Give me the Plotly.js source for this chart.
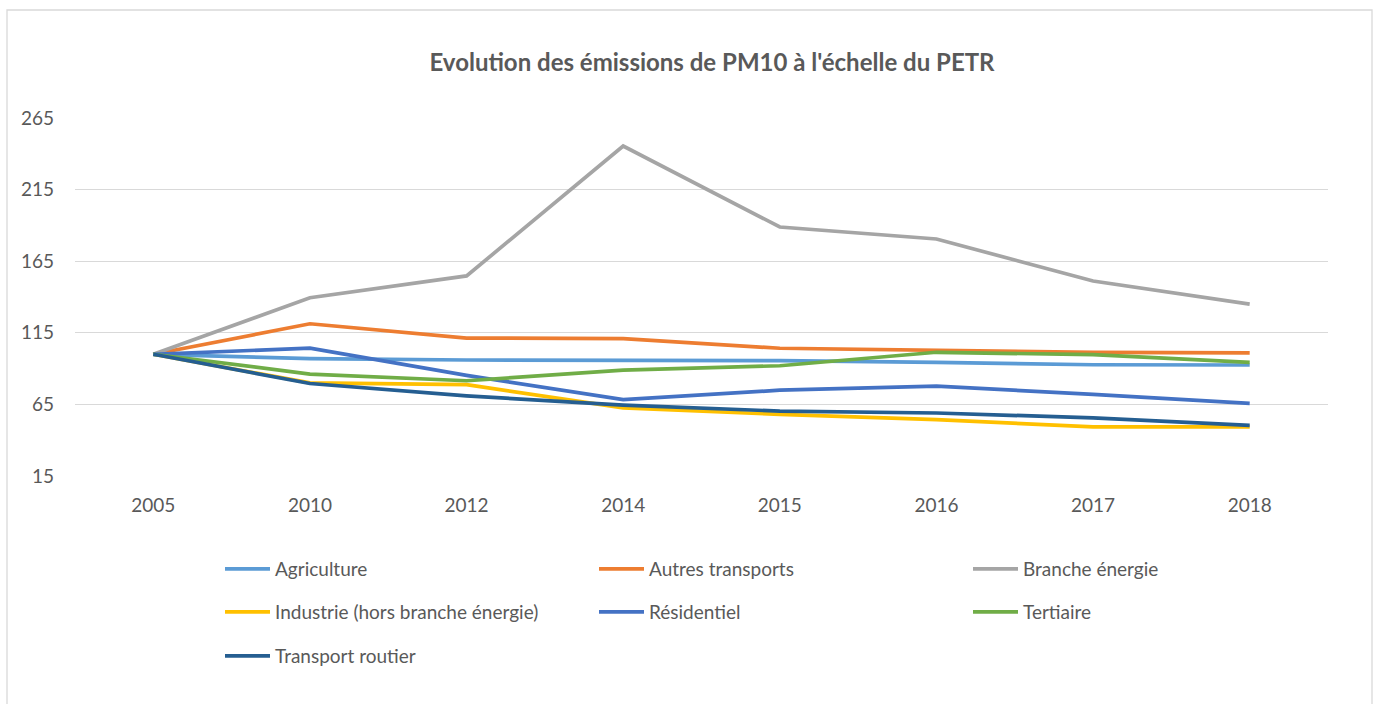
<!DOCTYPE html>
<html>
<head>
<meta charset="utf-8">
<script src="https://cdn.plot.ly/plotly-3.0.1.min.js"></script>
<style>
html,body{margin:0;padding:0;background:#fff;}
#chart{width:1379px;height:704px;}
</style>
</head>
<body>
<div id="chart"></div>
<script>
const years = ['2005','2010','2012','2014','2015','2016','2017','2018'];
const seriesNames = ['Agriculture','Autres transports','Branche énergie','Industrie (hors branche énergie)','Résidentiel','Tertiaire','Transport routier'];
const agriculture      = [100, 97, 96, 96, 95.5, 94.3, 92.7, 92.5];
const autresTransports = [100, 121.3, 111.3, 111, 104.2, 102.6, 101.4, 101];
const brancheEnergie   = [100, 139.5, 154.7, 245.4, 188.9, 180.5, 151.2, 135];
const industrie        = [100, 80, 78.8, 62.6, 58, 54.4, 49.3, 49.3];
const residentiel      = [100, 104.3, 85.3, 68.3, 74.9, 77.7, 72, 65.7];
const tertiaire        = [100, 86.2, 81.5, 89, 92, 101.4, 99.7, 94.3];
const transportRoutier = [100, 79.6, 71, 64.5, 60.3, 59, 55.6, 50.4];
const yTicks = [15, 65, 115, 165, 215, 265];

const values = [agriculture, autresTransports, brancheEnergie, industrie, residentiel, tertiaire, transportRoutier];
const colors = ['#5B9BD5','#ED7D31','#A5A5A5','#FFC000','#4472C4','#70AD47','#255E91'];
const legendOf = ['legend','legend','legend','legend2','legend2','legend2','legend3'];

const font = 'Lato, "Noto Sans", sans-serif';
const traces = seriesNames.map((n, i) => ({
  type: 'scatter', mode: 'lines', name: n,
  x: years, y: values[i],
  line: {color: colors[i], width: 3.7},
  legend: legendOf[i]
}));

const L = 75, R = 51, T = 118, B = 228;
const W = 1379 - L - R, H = 704 - T - B;
const px = v => (v - L) / W;
const py = v => (704 - B - v) / H;

const legendBase = {
  orientation: 'h', xref: 'container', yref: 'container',
  xanchor: 'left', yanchor: 'middle',
  x: 220 / 1379, entrywidth: 314, entrywidthmode: 'pixels',
  itemwidth: 45, font: {family: font, size: 19, color: '#595959'},
  bgcolor: 'rgba(0,0,0,0)', traceorder: 'normal'
};

const layout = {
  width: 1379, height: 704,
  margin: {l: L, r: R, t: T, b: B, pad: 0},
  paper_bgcolor: '#ffffff', plot_bgcolor: '#ffffff',
  font: {family: font, size: 19, color: '#595959'},
  title: {
    text: "<b>Evolution des émissions de PM10 à l'échelle du PETR</b>",
    font: {family: font, size: 24, color: '#595959'},
    x: 712 / 1379, xref: 'container', xanchor: 'center',
    y: 1 - 63 / 704, yref: 'container', yanchor: 'middle'
  },
  xaxis: {
    type: 'category', range: [-0.5, 7.5],
    showgrid: false, zeroline: false, showline: false,
    ticks: '', ticklabelstandoff: 16,
    tickfont: {family: font, size: 19, color: '#595959'}
  },
  yaxis: {
    range: [15, 265], tickmode: 'array', tickvals: yTicks,
    showgrid: true, gridcolor: '#D9D9D9', gridwidth: 1.3,
    zeroline: false, showline: false, ticks: '', ticklabelstandoff: 20,
    tickfont: {family: font, size: 19, color: '#595959'}
  },
  showlegend: true,
  legend:  Object.assign({}, legendBase, {y: 1 - 569 / 704}),
  legend2: Object.assign({}, legendBase, {y: 1 - 612 / 704}),
  legend3: Object.assign({}, legendBase, {y: 1 - 656 / 704}),
  shapes: [{
    type: 'rect', xref: 'paper', yref: 'paper',
    x0: px(7), x1: px(1372), y0: py(712), y1: py(10),
    line: {color: '#D9D9D9', width: 1.3}, fillcolor: 'rgba(0,0,0,0)', layer: 'below'
  }]
};

Plotly.newPlot('chart', traces, layout, {displayModeBar: false, staticPlot: true});
</script>
</body>
</html>
